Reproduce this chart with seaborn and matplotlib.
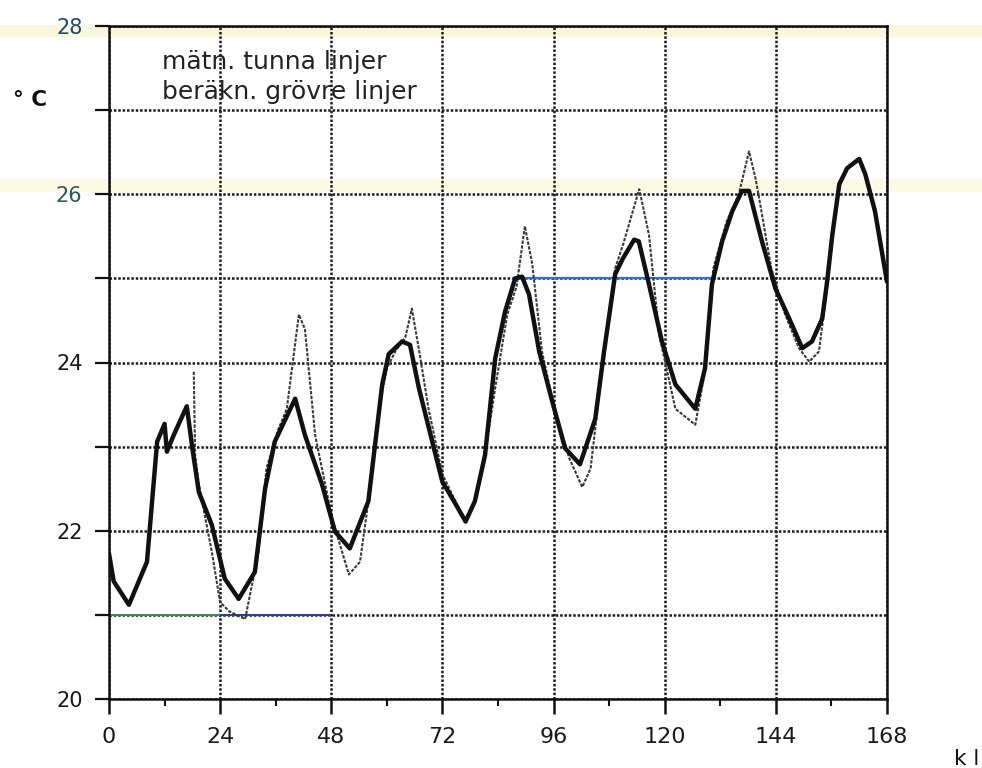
import matplotlib
matplotlib.use("Agg")
import matplotlib.pyplot as plt
from matplotlib.patches import Rectangle
import seaborn as sns
import pandas as pd

# Computed room temperature (thick line), hours vs °C
calc_hours = [0, 1, 4.3, 8.2, 10.4, 12, 12.5, 14, 16.8, 18, 19.4, 22.2, 25, 28,
              31.5, 33.7, 35.8, 40.2, 42.3, 46, 48.8, 52, 56, 59, 60.4, 63.3,
              65, 66.9, 69.8, 72, 74.5, 77, 79, 81.2, 83.4, 85.5, 87.7, 89.2,
              90.7, 92.9, 95.7, 98.5, 101.7, 105, 106.9, 109.3, 111, 113.4,
              114.4, 116.6, 119.4, 122.3, 126.6, 128.7, 130.2, 132.4, 134.6,
              136.7, 138.2, 141, 143.9, 146.9, 149.7, 151.8, 154, 155, 156.2,
              157.7, 159.4, 162, 163.3, 165.4, 168]
calc_temp = [21.73, 21.4, 21.12, 21.63, 23.06, 23.27, 22.94, 23.14, 23.48, 22.98,
             22.46, 22.07, 21.43, 21.19, 21.51, 22.5, 23.06, 23.57, 23.14, 22.55,
             21.99, 21.79, 22.35, 23.74, 24.1, 24.25, 24.21, 23.7, 23.06, 22.58,
             22.35, 22.11, 22.35, 22.9, 24.05, 24.6, 25.0, 25.02, 24.81, 24.13,
             23.54, 22.98, 22.79, 23.33, 24.13, 25.05, 25.24, 25.46, 25.44, 24.93,
             24.25, 23.74, 23.45, 23.93, 24.93, 25.44, 25.8, 26.04, 26.04, 25.44,
             24.88, 24.52, 24.17, 24.25, 24.52, 24.93, 25.52, 26.12, 26.31, 26.42,
             26.24, 25.8, 24.96]

# Measured room temperature (thin line)
meas_hours = [18.3, 18.6, 19.4, 22.2, 24, 26, 29.4, 32.3, 34, 36.6, 38.4, 41,
              42.3, 44.5, 48.2, 51.8, 54.2, 56, 58.3, 60, 62, 64, 65.4, 67, 69,
              72, 77, 79, 81.2, 83.4, 86, 88, 89.8, 91.4, 93.5, 96.2, 99.4,
              102.2, 104, 106.5, 109.3, 111, 114.5, 116.6, 118.8, 122.3, 126.6,
              128.7, 130.5, 133.4, 136, 138.2, 139.6, 140.5, 143, 146, 149,
              151.2, 153.3, 154.7, 156]
meas_temp = [23.89, 22.9, 22.55, 21.75, 21.15, 21.04, 20.95, 21.75, 22.74, 23.21,
             23.45, 24.57, 24.4, 23.14, 22.14, 21.48, 21.63, 22.35, 23.45, 23.93,
             24.15, 24.3, 24.64, 24.13, 23.45, 22.67, 22.1, 22.35, 22.9, 23.7,
             24.57, 24.9, 25.62, 25.17, 24.13, 23.45, 22.86, 22.52, 22.74, 23.93,
             25.12, 25.4, 26.06, 25.52, 24.33, 23.45, 23.26, 23.9, 25.12, 25.68,
             26.0, 26.51, 26.19, 25.92, 25.12, 24.57, 24.17, 24.01, 24.13, 24.73,
             25.4]

x_ticks = [0, 24, 48, 72, 96, 120, 144, 168]
x_minor = [12, 36, 60, 84, 108, 132, 156]
y_ticks = [20, 21, 22, 23, 24, 25, 26, 27, 28]
y_labels = ["20", "", "22", "", "24", "", "26", "", "28"]
legend_lines = ["mätn. tunna linjer", "beräkn. grövre linjer"]

sns.set_style("white")
plt.rcParams["font.family"] = ["DejaVu Sans"]

calc = pd.DataFrame({"h": calc_hours, "t": calc_temp})
meas = pd.DataFrame({"h": meas_hours, "t": meas_temp})

fig = plt.figure(figsize=(9.82, 7.68), dpi=100)
ax = fig.add_axes([109 / 982, 1 - 699 / 768, (887 - 109) / 982, (699 - 26) / 768])
ax.patch.set_alpha(0)

# pale yellowish streaks from the copier glass
for y0, h, a in [(25, 12, 0.55), (179, 13, 0.45)]:
    fig.patches.append(Rectangle((0, 1 - (y0 + h) / 768), 1, h / 768,
                                 transform=fig.transFigure, color="#f7f4c0",
                                 alpha=a, zorder=-1, lw=0))

sns.lineplot(data=meas, x="h", y="t", ax=ax, color="#3a3a3a", lw=1.5,
             linestyle=(0, (1.6, 0.7)), estimator=None, sort=False, zorder=3)
sns.lineplot(data=calc, x="h", y="t", ax=ax, color="#111111", lw=3.2,
             estimator=None, sort=False, zorder=4)

ax.set_xlim(0, 168)
ax.set_ylim(20, 28)
ax.set_xticks(x_ticks)
ax.set_xticks(x_minor, minor=True)
ax.set_yticks(y_ticks)
ax.set_yticklabels(y_labels)
ax.set_xlabel("")
ax.set_ylabel("")
ax.xaxis.set_ticks_position("bottom")
ax.yaxis.set_ticks_position("left")

ax.grid(True, axis="both", which="major", color="#1a1a1a", lw=1.8,
        linestyle=(0, (1, 0.75)))
ax.set_axisbelow(True)

# tinted stretches of grid lines (colour cast of the copy)
ax.hlines(25, 87, 131, color="#2f6fd6", lw=1.6, zorder=2)
ax.hlines(21, 0, 24, color="#3c8a4a", lw=1.4, zorder=2)
ax.hlines(21, 24, 48, color="#2e3d8a", lw=1.4, zorder=2)

for s in ax.spines.values():
    s.set_color("#111111")
    s.set_linewidth(1.8)

ax.tick_params(axis="x", which="major", bottom=True, top=False, direction="out",
               length=11, width=1.8, color="#111111", labelsize=16, pad=9,
               labelcolor="#1a1a1a")
ax.tick_params(axis="x", which="minor", bottom=True, top=False, direction="out",
               length=5, width=1.5, color="#111111")
ax.tick_params(axis="y", which="both", left=True, right=False, direction="out",
               length=10, width=1.6, color="#111111", labelsize=15, pad=9,
               labelcolor="#1a1a1a")
tl = ax.get_yticklabels()
tl[-1].set_color("#22486e")
tl[6].set_color("#2b5a5c")

fig.text(162 / 982, 1 - 62 / 768, legend_lines[0], fontsize=18,
         color="#222222", ha="left", va="center")
fig.text(162 / 982, 1 - 92 / 768, legend_lines[1], fontsize=18,
         color="#222222", ha="left", va="center")
fig.text(30 / 982, 1 - 100 / 768, "° C", fontsize=15.5, color="#111111",
         ha="center", va="center", weight="bold")
fig.text(967 / 982, 1 - 759 / 768, "k l", fontsize=15.5, color="#111111",
         ha="center", va="center")

fig.savefig("out.png", dpi=100, facecolor="white")
